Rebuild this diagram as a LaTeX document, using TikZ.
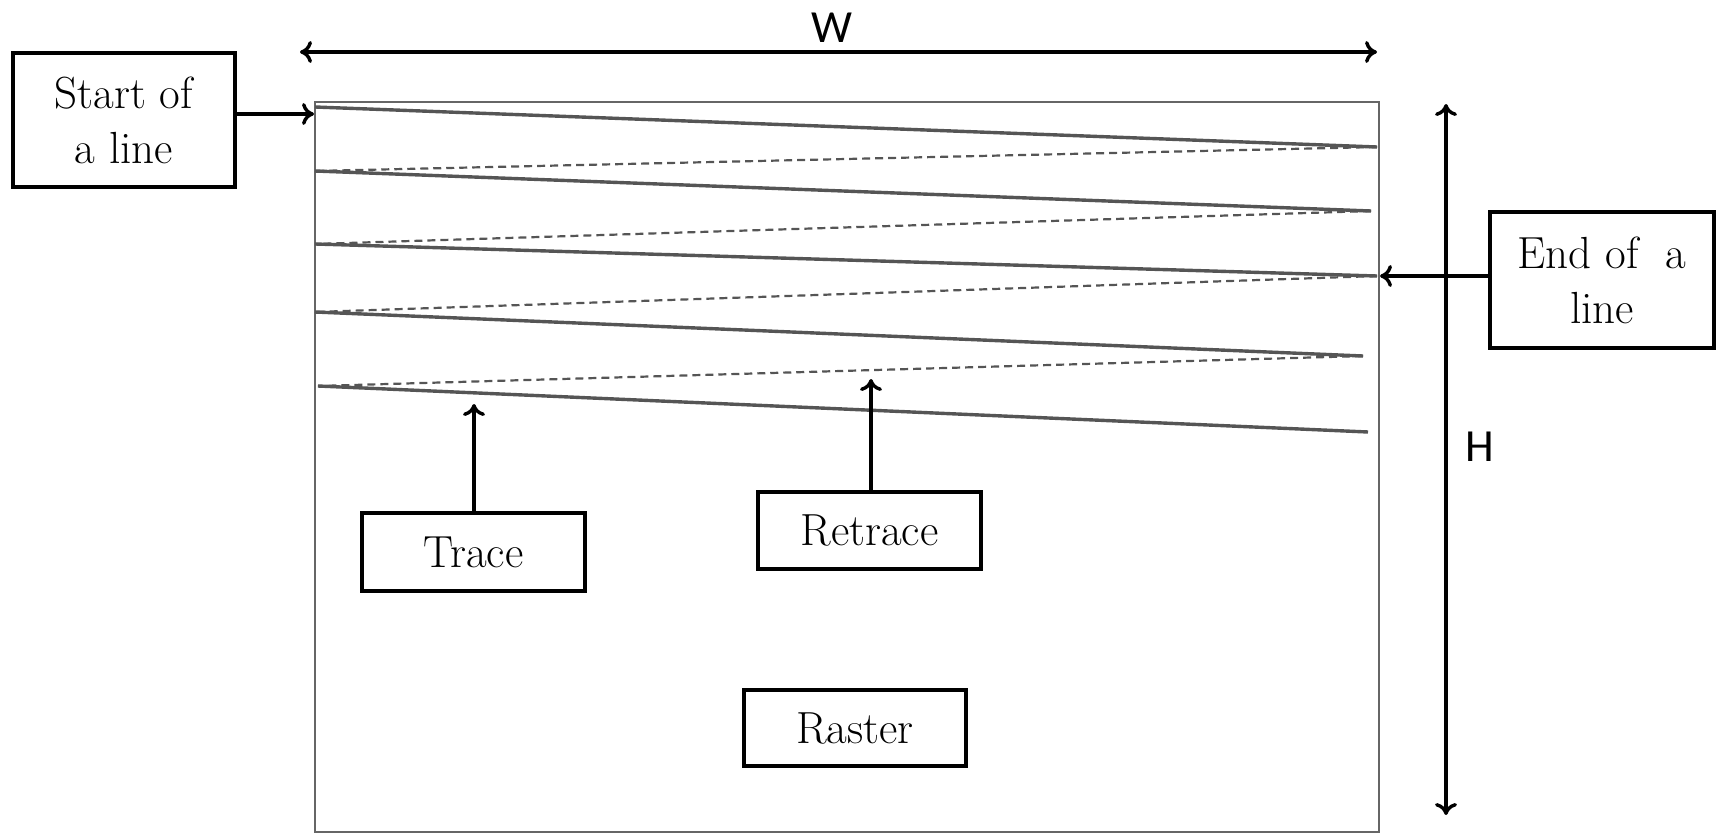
\documentclass[tikz,border=0pt]{standalone}
\usepackage{fontspec}
\newfontfamily\sansf{Carlito}
\usetikzlibrary{arrows.meta}
\definecolor{traceg}{HTML}{555555}
\definecolor{frameg}{HTML}{666666}
\tikzset{
  lbox/.style={draw=black, line width=1.8pt, fill=white, align=center, inner sep=0pt,
    font=\fontsize{22.5}{27.5}\selectfont},
  arr/.style={line width=1.7pt, -{To[length=6pt,width=11pt]}},
  darr/.style={line width=1.7pt, {To[length=6pt,width=11pt]}-{To[length=6pt,width=11pt]}},
  traceline/.style={draw=traceg, line width=1.7pt},
  retraceline/.style={draw=traceg, line width=1.1pt, dash pattern=on 4pt off 2.5pt},
  framebox/.style={draw=frameg, line width=1.2pt},
  dimlabel/.style={font=\sansf\fontsize{23}{25}\selectfont}
}
\begin{document}
\begin{tikzpicture}[x=0.5pt,y=-0.5pt]
\useasboundingbox (0,0) rectangle (1723,835);
% frame
\draw[framebox] (315,102) rectangle (1379,832);
% trace line end points
\coordinate (s1) at (315,107);  \coordinate (e1) at (1377,147);
\coordinate (s2) at (315,171);  \coordinate (e2) at (1371,211);
\coordinate (s3) at (315,244);  \coordinate (e3) at (1377,276);
\coordinate (s4) at (315,312);  \coordinate (e4) at (1363,356);
\coordinate (s5) at (318,386);  \coordinate (e5) at (1368,432);
\draw[traceline] (s1) -- (e1);
\draw[traceline] (s2) -- (e2);
\draw[traceline] (s3) -- (e3);
\draw[traceline] (s4) -- (e4);
\draw[traceline] (s5) -- (e5);
\draw[retraceline] (e1) -- (s2);
\draw[retraceline] (e2) -- (s3);
\draw[retraceline] (e3) -- (s4);
\draw[retraceline] (e4) -- (s5);
% dimension arrows
\coordinate (wl) at (300,52); \coordinate (wr) at (1377,52);
\draw[darr] (wl) -- (wr);
\node[dimlabel] (wlab) at (832,28) {W};
\coordinate (ht) at (1446,104); \coordinate (hb) at (1446,815);
\draw[darr] (ht) -- (hb);
\node[dimlabel] (hlab) at (1480,447) {H};
% label boxes
\node[lbox, minimum width=111pt, minimum height=67pt] (start) at (124,120) {Start of\\a line};
\node[lbox, minimum width=112pt, minimum height=68pt] (end) at (1602,280) {End of\ \ a\\line};
\node[lbox, minimum width=111.5pt, minimum height=39pt] (trace) at (473.5,552) {Trace};
\node[lbox, minimum width=111.5pt, minimum height=38.5pt] (retrace) at (869.5,530.5) {Retrace};
\node[lbox, minimum width=111pt, minimum height=38pt] (raster) at (855,728) {Raster};
% pointer arrows
\coordinate (startpt) at (314,114);
\coordinate (tracept) at (474,404);
\coordinate (retracept) at (871,379);
\draw[arr] (start.east |- startpt) -- (startpt);
\draw[arr] (end.west |- e3) -- (1380,276);
\draw[arr] (trace.north -| tracept) -- (tracept);
\draw[arr] (retrace.north -| retracept) -- (retracept);
\end{tikzpicture}
\end{document}
